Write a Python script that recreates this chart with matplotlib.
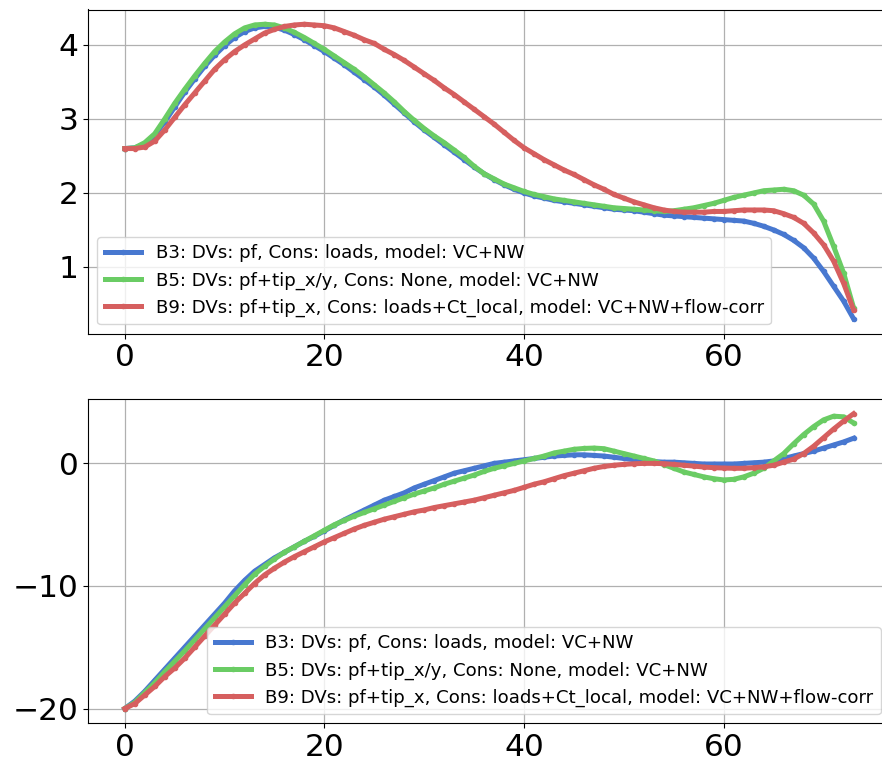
import numpy as np
import matplotlib
matplotlib.use("Agg")
import matplotlib.pyplot as plt

# Spanwise station index
x = np.arange(74)

labels = [
    "B3: DVs: pf, Cons: loads, model: VC+NW",
    "B5: DVs: pf+tip_x/y, Cons: None, model: VC+NW",
    "B9: DVs: pf+tip_x, Cons: loads+Ct_local, model: VC+NW+flow-corr",
]
colors = ["#4878D0", "#6ACC64", "#D65F5F"]

# Upper panel
top_b3 = [2.60, 2.61, 2.66, 2.78, 2.96, 3.16, 3.36, 3.54, 3.71, 3.86,
          3.99, 4.10, 4.18, 4.23, 4.25, 4.24, 4.20, 4.14, 4.07, 3.99,
          3.91, 3.82, 3.73, 3.63, 3.53, 3.43, 3.32, 3.20, 3.08, 2.96,
          2.85, 2.75, 2.65, 2.55, 2.45, 2.35, 2.26, 2.18, 2.11, 2.05,
          2.00, 1.96, 1.93, 1.90, 1.88, 1.86, 1.84, 1.82, 1.80, 1.78,
          1.77, 1.76, 1.74, 1.72, 1.70, 1.69, 1.68, 1.67, 1.66, 1.65,
          1.64, 1.63, 1.62, 1.59, 1.55, 1.50, 1.44, 1.36, 1.26, 1.12,
          0.94, 0.74, 0.54, 0.30]
top_b5 = [2.60, 2.61, 2.68, 2.80, 3.00, 3.21, 3.40, 3.58, 3.75, 3.91,
          4.04, 4.15, 4.23, 4.27, 4.28, 4.27, 4.23, 4.17, 4.10, 4.02,
          3.94, 3.85, 3.76, 3.67, 3.57, 3.46, 3.35, 3.23, 3.10, 2.98,
          2.87, 2.77, 2.68, 2.58, 2.48, 2.36, 2.26, 2.19, 2.12, 2.07,
          2.02, 1.98, 1.95, 1.92, 1.90, 1.88, 1.86, 1.84, 1.82, 1.80,
          1.79, 1.78, 1.77, 1.76, 1.75, 1.76, 1.78, 1.80, 1.83, 1.86,
          1.90, 1.94, 1.97, 2.00, 2.03, 2.04, 2.05, 2.03, 1.97, 1.85,
          1.62, 1.28, 0.92, 0.45]
top_b9 = [2.60, 2.60, 2.62, 2.70, 2.85, 3.02, 3.19, 3.35, 3.51, 3.67,
          3.80, 3.91, 4.00, 4.08, 4.16, 4.21, 4.25, 4.27, 4.28, 4.27,
          4.26, 4.23, 4.18, 4.13, 4.07, 4.02, 3.94, 3.87, 3.79, 3.70,
          3.61, 3.52, 3.42, 3.33, 3.23, 3.13, 3.03, 2.93, 2.82, 2.71,
          2.61, 2.53, 2.45, 2.38, 2.31, 2.25, 2.18, 2.11, 2.05, 1.98,
          1.93, 1.88, 1.84, 1.80, 1.77, 1.75, 1.74, 1.74, 1.74, 1.75,
          1.75, 1.76, 1.77, 1.77, 1.77, 1.76, 1.72, 1.67, 1.59, 1.46,
          1.30, 1.08, 0.78, 0.42]

# Lower panel
bot_b3 = [-20.0, -19.4, -18.6, -17.7, -16.8, -15.9, -15.0, -14.1, -13.2, -12.3,
          -11.4, -10.4, -9.55, -8.8, -8.25, -7.7, -7.25, -6.8, -6.35, -5.95,
          -5.5, -5.05, -4.6, -4.2, -3.8, -3.4, -3.0, -2.7, -2.4, -2.0,
          -1.7, -1.4, -1.1, -0.8, -0.6, -0.4, -0.2, 0.0, 0.1, 0.2,
          0.3, 0.4, 0.5, 0.6, 0.65, 0.7, 0.7, 0.65, 0.6, 0.5,
          0.4, 0.3, 0.2, 0.15, 0.1, 0.1, 0.05, 0.0, -0.05, -0.05,
          -0.05, -0.05, 0.0, 0.05, 0.1, 0.2, 0.4, 0.6, 0.8, 1.0,
          1.25, 1.5, 1.75, 2.05]
bot_b5 = [-20.0, -19.5, -18.7, -17.9, -17.0, -16.15, -15.3, -14.4, -13.5, -12.6,
          -11.7, -10.8, -9.9, -9.05, -8.4, -7.8, -7.25, -6.8, -6.35, -5.9,
          -5.45, -5.0, -4.65, -4.3, -4.0, -3.7, -3.4, -3.1, -2.8, -2.5,
          -2.25, -2.0, -1.7, -1.45, -1.2, -0.95, -0.65, -0.4, -0.2, 0.0,
          0.2, 0.4, 0.6, 0.85, 1.0, 1.15, 1.22, 1.25, 1.2, 1.0,
          0.8, 0.6, 0.4, 0.2, -0.1, -0.4, -0.7, -0.9, -1.1, -1.25,
          -1.35, -1.3, -1.1, -0.8, -0.4, 0.2, 0.8, 1.6, 2.35, 3.0,
          3.55, 3.85, 3.8, 3.3]
bot_b9 = [-20.0, -19.6, -18.9, -18.2, -17.4, -16.7, -15.9, -15.0, -14.1, -13.2,
          -12.3, -11.4, -10.6, -9.8, -9.1, -8.55, -8.05, -7.6, -7.2, -6.8,
          -6.4, -6.05, -5.7, -5.35, -5.05, -4.8, -4.55, -4.35, -4.15, -3.95,
          -3.8, -3.6, -3.45, -3.3, -3.15, -3.0, -2.8, -2.6, -2.4, -2.2,
          -1.95, -1.7, -1.5, -1.25, -1.0, -0.8, -0.6, -0.4, -0.25, -0.15,
          -0.08, -0.03, 0.0, 0.0, -0.02, -0.08, -0.15, -0.22, -0.3, -0.35,
          -0.38, -0.4, -0.4, -0.35, -0.28, -0.15, 0.1, 0.35, 0.8, 1.4,
          2.1, 2.8, 3.45, 4.05]

fig = plt.figure(figsize=(8.82, 7.67), dpi=100)
W, H = 882.0, 767.0
ax_top = fig.add_axes([88.3 / W, (H - 333.5) / H, (890 - 88.3) / W, 324.0 / H])
ax_bot = fig.add_axes([88.3 / W, (H - 723.3) / H, (890 - 88.3) / W, 324.3 / H])

panels = [
    (ax_top, [top_b3, top_b5, top_b9], "lower left"),
    (ax_bot, [bot_b3, bot_b5, bot_b9], "lower right"),
]
for ax, series, loc in panels:
    for y, c, lab in zip(series, colors, labels):
        ax.plot(x, y, color=c, lw=3.6, marker=".", ms=6, label=lab)
    ax.grid(True, color="#b0b0b0", lw=0.9)
    ax.set_axisbelow(True)
    ax.tick_params(labelsize=22.5)
    ax.set_xticks([0, 20, 40, 60])
    ax.legend(loc=loc, fontsize=13.1)

ax_top.set_yticks([1, 2, 3, 4])
ax_bot.set_yticks([-20, -10, 0])

fig.savefig("out.png", dpi=100)
